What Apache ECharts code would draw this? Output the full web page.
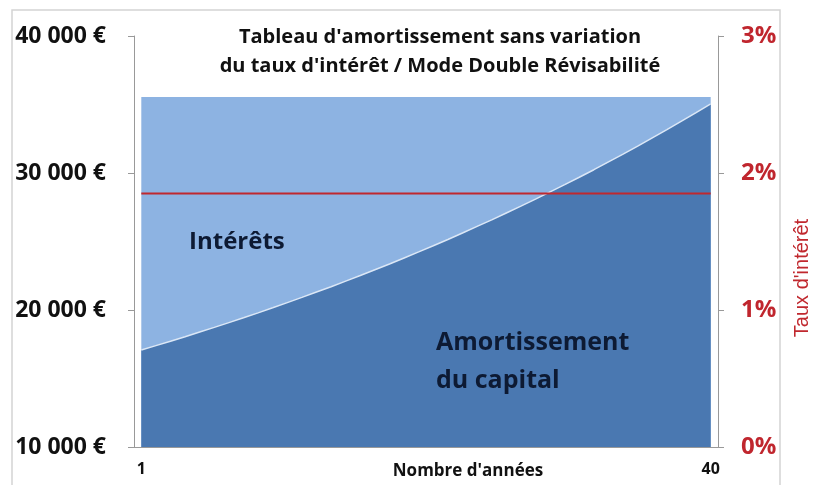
<!DOCTYPE html>
<html>
<head>
<meta charset="utf-8">
<style>
html,body{margin:0;padding:0;background:#fff;}
#chart{width:817px;height:485px;}
</style>
</head>
<body>
<div id="chart"></div>
<script src="https://cdn.jsdelivr.net/npm/echarts@6/dist/echarts.min.js"></script>
<script>
// années 1..40
var years = [];
for (var i = 1; i <= 40; i++) years.push(String(i));

// part capital remboursée chaque année
var capital = [17080, 17400, 17720, 18050, 18390, 18730, 19080, 19430, 19790, 20160,
               20540, 20920, 21310, 21700, 22110, 22520, 22940, 23360, 23800, 24240,
               24690, 25150, 25620, 26100, 26580, 27080, 27580, 28090, 28620, 29150,
               29690, 30240, 30810, 31380, 31960, 32560, 33160, 33780, 34410, 35050];
// annuité totale (capital + intérêts), constante
var annuite = [35550, 35550, 35550, 35550, 35550, 35550, 35550, 35550, 35550, 35550,
               35550, 35550, 35550, 35550, 35550, 35550, 35550, 35550, 35550, 35550,
               35550, 35550, 35550, 35550, 35550, 35550, 35550, 35550, 35550, 35550,
               35550, 35550, 35550, 35550, 35550, 35550, 35550, 35550, 35550, 35550];
// taux d'intérêt (%)
var taux = [1.85, 1.85, 1.85, 1.85, 1.85, 1.85, 1.85, 1.85, 1.85, 1.85,
            1.85, 1.85, 1.85, 1.85, 1.85, 1.85, 1.85, 1.85, 1.85, 1.85,
            1.85, 1.85, 1.85, 1.85, 1.85, 1.85, 1.85, 1.85, 1.85, 1.85,
            1.85, 1.85, 1.85, 1.85, 1.85, 1.85, 1.85, 1.85, 1.85, 1.85];

var font = 'Open Sans';
var chart = echarts.init(document.getElementById('chart'));
var option = {
    animation: false,
    grid: { left: 134, right: 99, top: 36, bottom: 38, outerBoundsMode: 'none', containLabel: false },
    xAxis: {
        type: 'category',
        data: years,
        boundaryGap: true,
        axisLine: { lineStyle: { color: '#999', width: 1 } },
        axisTick: { interval: 0, length: 5, lineStyle: { color: '#999' } },
        axisLabel: {
            interval: function (idx) { return idx === 0 || idx === 39; },
            color: '#111', fontWeight: 'bold', fontSize: 16, fontFamily: font, margin: 14
        }
    },
    yAxis: [
        {
            type: 'value', min: 10000, max: 40000, interval: 10000,
            splitLine: { show: false },
            axisLine: { show: true, lineStyle: { color: '#999' } },
            axisTick: { show: true, length: 6, lineStyle: { color: '#999' } },
            axisLabel: {
                formatter: function (v) { return (v / 1000) + ' 000 €'; },
                color: '#111', fontWeight: 'bold', fontSize: 23, fontFamily: font, margin: 28
            }
        },
        {
            type: 'value', min: 0, max: 3, interval: 1,
            position: 'right',
            splitLine: { show: false },
            axisLine: { show: true, lineStyle: { color: '#999' } },
            axisTick: { show: true, length: 6, lineStyle: { color: '#999' } },
            axisLabel: {
                formatter: '{value}%',
                color: '#c0262e', fontWeight: 'bold', fontSize: 24, fontFamily: font, margin: 23
            }
        }
    ],
    series: [
        {
            name: 'Intérêts',
            type: 'line',
            data: annuite,
            symbol: 'none',
            lineStyle: { width: 0 },
            areaStyle: { color: '#8db3e2', opacity: 1, origin: 'start' }
        },
        {
            name: 'Amortissement du capital',
            type: 'line',
            data: capital,
            symbol: 'none',
            lineStyle: { color: '#dbe7f6', width: 1.5 },
            areaStyle: { color: '#4a78b1', opacity: 1, origin: 'start' }
        },
        {
            name: "Taux d'intérêt",
            type: 'line',
            yAxisIndex: 1,
            data: taux,
            symbol: 'none',
            z: 5,
            lineStyle: { color: '#c0282e', width: 2 }
        }
    ],
    graphic: [
        { type: 'rect', shape: { x: 12, y: 10, width: 768, height: 490 }, style: { fill: 'none', stroke: '#d4d4d4', lineWidth: 1.5 }, silent: true },
        { type: 'text', x: 440, y: 37, style: {
            text: "Tableau d'amortissement sans variation",
            align: 'center', verticalAlign: 'middle',
            fontSize: 20, fontWeight: 'bold', fontFamily: font, fill: '#111'
        } },
        { type: 'text', x: 440, y: 66, style: {
            text: "du taux d'intérêt / Mode Double Révisabilité",
            align: 'center', verticalAlign: 'middle',
            fontSize: 20, fontWeight: 'bold', fontFamily: font, fill: '#111'
        } },
        { type: 'text', x: 189, y: 242, z: 10, style: { text: 'Intérêts', verticalAlign: 'middle', fontSize: 24, fontWeight: 'bold', fontFamily: font, fill: '#0d1a33' } },
        { type: 'text', x: 436, y: 343, z: 10, style: { text: 'Amortissement', verticalAlign: 'middle', fontSize: 25, fontWeight: 'bold', fontFamily: font, fill: '#0d1a33' } },
        { type: 'text', x: 436, y: 381, z: 10, style: { text: 'du capital', verticalAlign: 'middle', fontSize: 25, fontWeight: 'bold', fontFamily: font, fill: '#0d1a33' } },
        { type: 'text', x: 468, y: 471, style: {
            text: "Nombre d'années", align: 'center', verticalAlign: 'middle',
            fontSize: 17, fontWeight: 'bold', fontFamily: font, fill: '#111'
        } },
        { type: 'text', x: 802, y: 278, rotation: Math.PI / 2, z: 10, style: {
            text: "Taux d'intérêt", align: 'center', verticalAlign: 'middle',
            fontSize: 20, fontFamily: 'Liberation Sans', fill: '#c0282e'
        } }
    ]
};
chart.setOption(option);
</script>
</body>
</html>
